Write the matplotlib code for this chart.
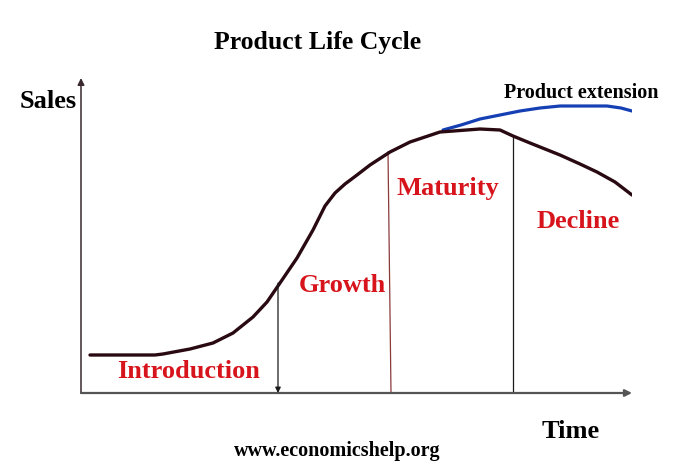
import matplotlib
matplotlib.use("Agg")
import matplotlib.pyplot as plt

W, H = 692, 468
# axis origin at pixel (81, 393); axes extent 551 x 315 px
OX, OY, AW, AH = 81, 393, 551, 315

# Main product life cycle curve (time, sales)
time_main = [9, 74, 82, 109, 132, 152, 172, 186, 199, 216, 232, 244, 254, 264, 276, 289, 309,
             329, 359, 399, 419, 432, 449, 479, 499, 516, 534, 551]
sales_main = [38, 38, 39, 44, 50, 60, 76, 91, 110, 135, 163, 187, 200, 209, 218, 228, 241,
              251, 261, 264, 263, 257, 250, 238, 229, 221, 211, 198]

# Product extension curve
time_ext = [362, 380, 399, 419, 439, 459, 479, 499, 526, 540, 551]
sales_ext = [263, 268, 274, 278, 282, 285, 287, 287, 287, 285, 282]

# Stage boundaries (time) and curve heights
bound_time = [197, 307, 432]
bound_top = [110, 241, 257]
bound_colors = ["#1a1a1a", "#8b3a3a", "#1a1a1a"]

stage_labels = ["Introduction", "Growth", "Maturity", "Decline"]
stage_pos = [(189, 372), (342, 286), (448, 189), (578, 221)]

red = "#d7141c"
serif = ["Liberation Serif", "DejaVu Serif"]

fig = plt.figure(figsize=(W / 100, H / 100), dpi=100)
ax = fig.add_axes([OX / W, 1 - OY / H, AW / W, AH / H])
ax.set_xlim(0, AW)
ax.set_ylim(0, AH)
ax.axis("off")

# axes with arrows
ax.annotate("", xy=(0, 1), xytext=(0, 0), xycoords="axes fraction",
            arrowprops=dict(arrowstyle="-|>", color="#3a2a30", lw=1.1,
                            mutation_scale=10, shrinkA=0, shrinkB=0))
ax.annotate("", xy=(1, 0), xytext=(0, 0), xycoords="axes fraction",
            arrowprops=dict(arrowstyle="-|>", color="#555555", lw=1.6,
                            mutation_scale=10, shrinkA=0, shrinkB=0))

# stage boundaries
ax.annotate("", xy=(bound_time[0], 0), xytext=(bound_time[0], bound_top[0]),
            arrowprops=dict(arrowstyle="-|>", color=bound_colors[0], lw=0.9,
                            mutation_scale=8, shrinkA=0, shrinkB=0))
ax.plot([bound_time[1], bound_time[1] + 3], [bound_top[1], 0], color=bound_colors[1], lw=0.9)
ax.plot([bound_time[2], bound_time[2]], [bound_top[2], 0], color=bound_colors[2], lw=0.9)

ax.plot(time_ext, sales_ext, color="#1440b4", lw=2.3, solid_capstyle="round")
ax.plot(time_main, sales_main, color="#2a0a12", lw=2.4, solid_capstyle="round",
        solid_joinstyle="round")

def ftext(x, y, s, size, color="black", ha="center"):
    fig.text(x / W, 1 - y / H, s, fontsize=size, color=color, ha=ha, va="center",
             fontweight="bold", family=serif)

ftext(318, 42, "Product Life Cycle", 18.5)
ftext(48, 102, "Sales", 19)
ftext(571, 432, "Time", 19)
ftext(581, 93, "Product extension", 14.5)
ftext(337, 451, "www.economicshelp.org", 14.5)
for lab, (x, y) in zip(stage_labels, stage_pos):
    ftext(x, y, lab, 19, color=red)

fig.savefig("out.png", dpi=100)
